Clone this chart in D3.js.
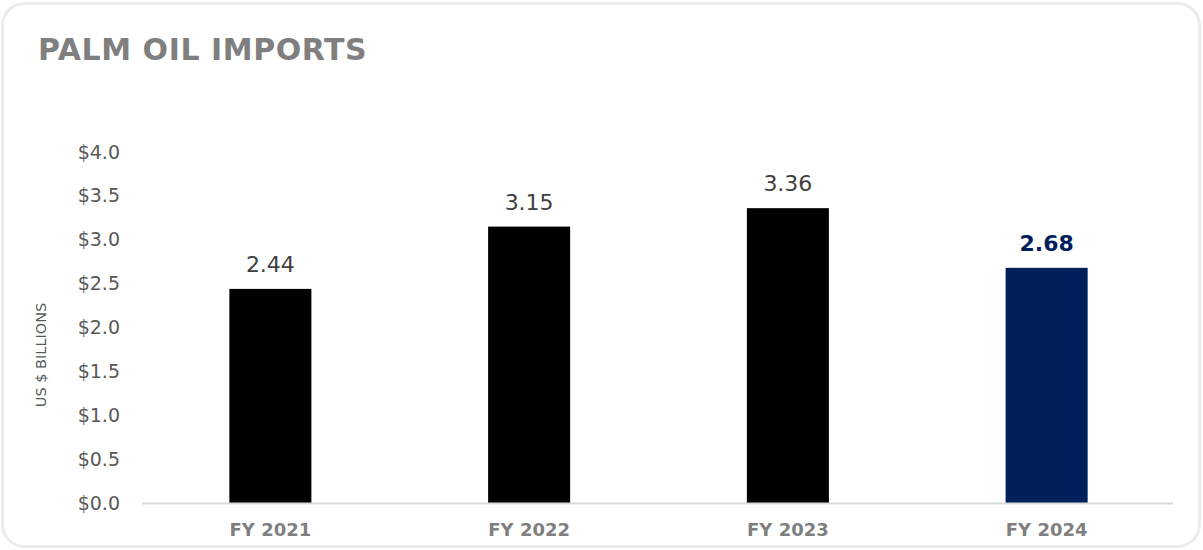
<!DOCTYPE html>
<html>
<head>
<meta charset="utf-8">
<script src="https://cdn.jsdelivr.net/npm/d3@7/dist/d3.min.js"></script>
<style>
  html, body { margin: 0; padding: 0; background: #ffffff; }
  svg { display: block; }
  text { font-family: "DejaVu Sans", "Open Sans", sans-serif; }
</style>
</head>
<body>
<svg id="chart" width="1203" height="550"></svg>
<script>
// Palm oil imports by fiscal year, US $ billions
const categories = ["FY 2021", "FY 2022", "FY 2023", "FY 2024"];
const values = [2.44, 3.15, 3.36, 2.68];
const yTicks = [0, 0.5, 1.0, 1.5, 2.0, 2.5, 3.0, 3.5, 4.0];
const highlighted = "FY 2024";

const svg = d3.select("#chart");

// card frame
svg.append("rect")
  .attr("x", 2.5).attr("y", 3.5)
  .attr("width", 1197).attr("height", 543)
  .attr("rx", 22).attr("ry", 22)
  .attr("fill", "#ffffff")
  .attr("stroke", "#ebebeb")
  .attr("stroke-width", 3);

// title
svg.append("text")
  .attr("x", 38).attr("y", 60)
  .attr("fill", "#7f7f7f")
  .attr("font-size", 30)
  .attr("font-weight", "bold")
  .attr("letter-spacing", 0.55)
  .text("PALM OIL IMPORTS");

const x = d3.scaleBand()
  .domain(categories)
  .range([141, 1176])
  .paddingInner(0.683)
  .paddingOuter(0.3415);

const y = d3.scaleLinear()
  .domain([0, 4])
  .range([503, 152]);

// y axis tick labels
const yAxis = svg.append("g")
  .attr("transform", "translate(120,0)")
  .call(d3.axisLeft(y).tickValues(yTicks).tickSize(0).tickPadding(0)
    .tickFormat(d => "$" + d3.format(".1f")(d)));
yAxis.select(".domain").remove();
yAxis.selectAll("text")
  .attr("fill", "#595959")
  .attr("font-size", 19)
  .attr("font-family", "\"DejaVu Sans\", sans-serif");

// y axis title
svg.append("text")
  .attr("transform", "translate(46,355) rotate(-90)")
  .attr("text-anchor", "middle")
  .attr("fill", "#595959")
  .attr("font-size", 14.5)
  .text("US $ BILLIONS");

// bars
svg.append("g").selectAll("rect")
  .data(categories)
  .join("rect")
  .attr("x", d => x(d))
  .attr("width", x.bandwidth())
  .attr("y", (d, i) => y(values[i]))
  .attr("height", (d, i) => y(0) - y(values[i]))
  .attr("fill", d => d === highlighted ? "#001f5b" : "#000000");

// x axis baseline and category labels
const xAxis = svg.append("g")
  .attr("transform", "translate(0,503)")
  .call(d3.axisBottom(x).tickSize(0).tickPadding(20));
xAxis.select(".domain")
  .attr("d", "M142,0.5H1173")
  .attr("stroke", "#d9d9d9")
  .attr("stroke-width", 2);
xAxis.selectAll("text")
  .attr("fill", "#7f7f7f")
  .attr("font-size", 18)
  .attr("font-weight", "bold")
  .attr("font-family", "\"DejaVu Sans\", sans-serif");

// value labels
svg.append("g").selectAll("text")
  .data(categories)
  .join("text")
  .attr("x", d => x(d) + x.bandwidth() / 2)
  .attr("y", (d, i) => y(values[i]) - 17)
  .attr("text-anchor", "middle")
  .attr("font-size", 22)
  .attr("font-weight", d => d === highlighted ? "bold" : "normal")
  .attr("fill", d => d === highlighted ? "#001f5b" : "#404040")
  .text((d, i) => d3.format(".2f")(values[i]));
</script>
</body>
</html>
